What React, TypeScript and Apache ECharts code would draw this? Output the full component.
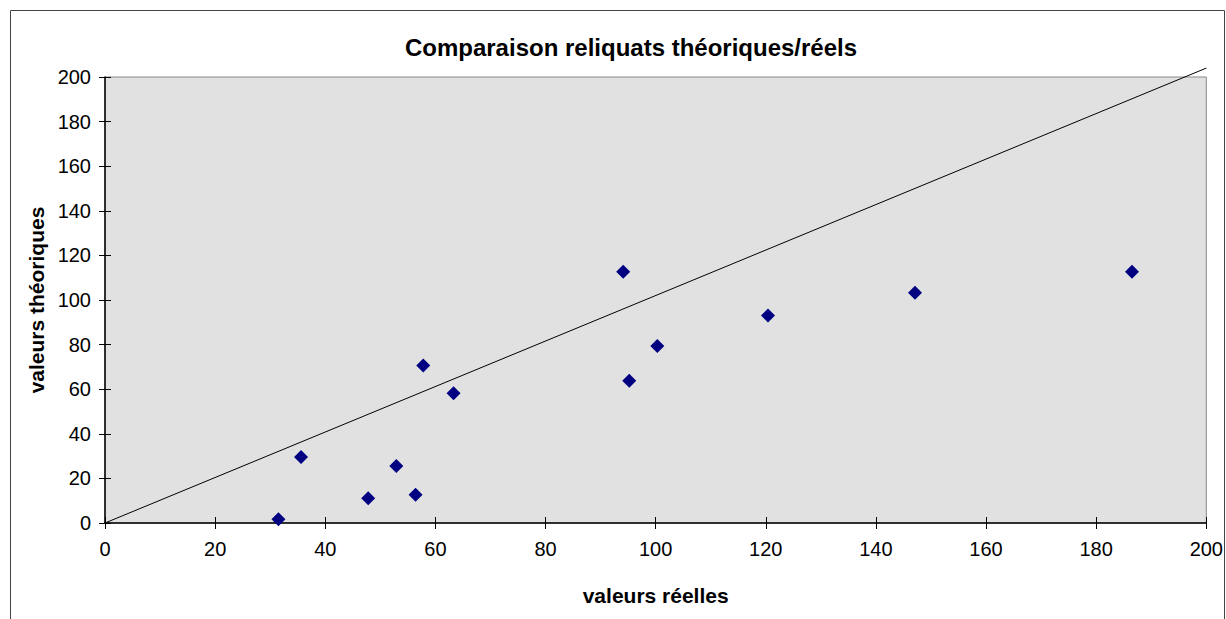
import React, { useEffect, useRef } from "react";
import * as echarts from "echarts";

const reelles = [31.5, 35.6, 47.8, 52.9, 56.4, 57.8, 63.3, 94.1, 95.2, 100.3, 120.4, 147.1, 186.5];
const theoriques = [1.7, 29.6, 11.1, 25.6, 12.7, 70.6, 58.2, 112.7, 63.8, 79.4, 93.1, 103.3, 112.7];
const refLineX = [0, 200];
const refLineY = [0, 204];

const titleText = "Comparaison reliquats théoriques/réels";
const xName = "valeurs réelles";
const yName = "valeurs théoriques";

export default function App() {
  const ref = useRef<HTMLDivElement>(null);
  useEffect(() => {
    if (!ref.current) return;
    const chart = echarts.init(ref.current, null, { renderer: "svg" });
    const font = "Arial, 'Liberation Sans', sans-serif";
    const axisCommon = {
      type: "value",
      min: 0,
      max: 200,
      interval: 20,
      splitLine: { show: false },
    };
    chart.setOption({
      animation: false,
      backgroundColor: "#ffffff",
      title: {
        text: titleText,
        left: 626,
        textAlign: "center",
        top: 30,
        textStyle: { fontFamily: font, fontSize: 24, fontWeight: "bold", color: "#000" },
      },
      graphic: [
        {
          type: "rect",
          shape: { x: 10.5, y: 10.5, width: 1214, height: 640 },
          style: { fill: "none", stroke: "#444", lineWidth: 1 },
          silent: true,
        },
      ],
      grid: {
        left: 105,
        right: 19,
        top: 77,
        bottom: 96,
        show: true,
        backgroundColor: "#e1e1e1",
        borderColor: "#888",
        borderWidth: 1,
      },
      xAxis: [
        {
          ...axisCommon,
          name: xName,
          nameLocation: "middle",
          nameGap: 62,
          nameTextStyle: { fontFamily: font, fontSize: 21, fontWeight: "bold", color: "#000" },
          axisLine: { show: true, onZero: false, lineStyle: { color: "#000", width: 1.5 } },
          axisTick: { show: true, inside: false, length: 6, lineStyle: { color: "#000" } },
          axisLabel: { fontFamily: font, fontSize: 20, color: "#000", margin: 16 },
        },
        {
          ...axisCommon,
          position: "bottom",
          axisLine: { show: false },
          axisTick: { show: true, inside: true, length: 6, lineStyle: { color: "#000" } },
          axisLabel: { show: false },
        },
      ],
      yAxis: [
        {
          ...axisCommon,
          name: yName,
          nameLocation: "middle",
          nameGap: 52,
          nameTextStyle: { fontFamily: font, fontSize: 21, fontWeight: "bold", color: "#000" },
          axisLine: { show: true, onZero: false, lineStyle: { color: "#000", width: 1.5 } },
          axisTick: { show: true, inside: false, length: 6, lineStyle: { color: "#000" } },
          axisLabel: { fontFamily: font, fontSize: 20, color: "#000", margin: 14 },
        },
        {
          ...axisCommon,
          position: "left",
          axisLine: { show: false },
          axisTick: { show: true, inside: true, length: 6, lineStyle: { color: "#000" } },
          axisLabel: { show: false },
        },
      ],
      series: [
        {
          type: "line",
          data: refLineX.map((x, i) => [x, refLineY[i]]),
          clip: false,
          symbol: "none",
          lineStyle: { color: "#000", width: 1 },
          silent: true,
          z: 2,
        },
        {
          type: "scatter",
          data: reelles.map((x, i) => [x, theoriques[i]]),
          symbol: "diamond",
          symbolSize: 14,
          itemStyle: { color: "#000080", opacity: 1 },
          z: 3,
        },
      ],
    });
    return () => chart.dispose();
  }, []);
  return (
    <div
      ref={ref}
      style={{ position: "fixed", left: 0, top: 0, width: 1226, height: 619 }}
    />
  );
}
